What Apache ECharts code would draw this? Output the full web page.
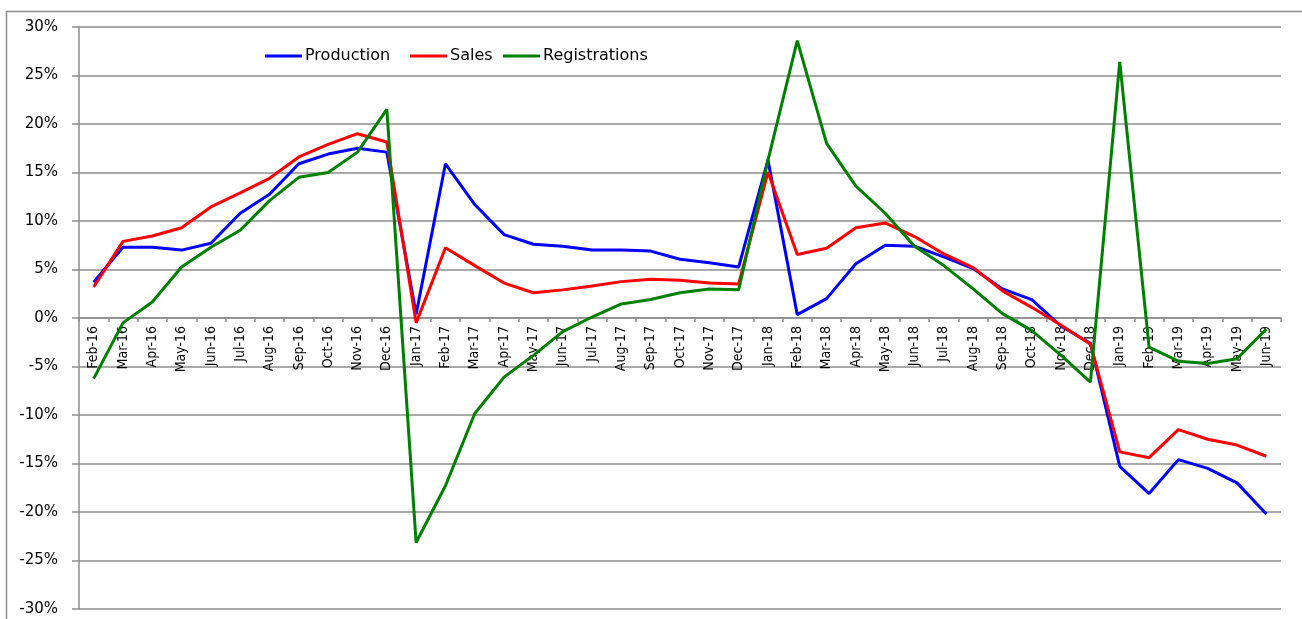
<!DOCTYPE html>
<html>
<head>
<meta charset="utf-8">
<script src="https://cdn.jsdelivr.net/npm/echarts@6/dist/echarts.min.js"></script>
<style>
html,body{margin:0;padding:0;background:#fff;}
#chart{width:1302px;height:619px;}
</style>
</head>
<body>
<div id="chart"></div>
<script>
var categories = ['Feb-16','Mar-16','Apr-16','May-16','Jun-16','Jul-16','Aug-16','Sep-16','Oct-16','Nov-16','Dec-16',
  'Jan-17','Feb-17','Mar-17','Apr-17','May-17','Jun-17','Jul-17','Aug-17','Sep-17','Oct-17','Nov-17','Dec-17',
  'Jan-18','Feb-18','Mar-18','Apr-18','May-18','Jun-18','Jul-18','Aug-18','Sep-18','Oct-18','Nov-18','Dec-18',
  'Jan-19','Feb-19','Mar-19','Apr-19','May-19','Jun-19'];

var production = [3.7,7.3,7.3,7.0,7.7,10.8,12.75,15.9,16.9,17.5,17.1,
  0.4,15.9,11.7,8.6,7.6,7.4,7.0,7.0,6.9,6.05,5.7,5.25,
  16.3,0.35,2.0,5.6,7.5,7.4,6.3,5.1,3.0,1.9,-0.85,-2.6,
  -15.3,-18.1,-14.6,-15.5,-17.0,-20.2];

var sales = [3.2,7.9,8.45,9.3,11.45,12.9,14.4,16.6,17.9,19.0,18.15,
  -0.5,7.25,5.4,3.6,2.6,2.9,3.3,3.75,4.0,3.9,3.6,3.5,
  15.05,6.55,7.2,9.3,9.8,8.4,6.6,5.2,2.8,1.1,-0.75,-2.7,
  -13.8,-14.4,-11.5,-12.5,-13.1,-14.25];

var registrations = [-6.25,-0.5,1.65,5.25,7.3,9.05,12.1,14.5,15.0,17.1,21.5,
  -23.15,-17.3,-9.85,-6.1,-3.85,-1.4,0.1,1.45,1.9,2.6,3.0,2.9,
  16.25,28.6,18.0,13.6,10.8,7.4,5.4,3.0,0.45,-1.3,-3.85,-6.6,
  26.4,-3.0,-4.45,-4.7,-4.2,-1.15];

var yMin = -30, yMax = 30, yStep = 5;
var seriesNames = ['Production','Sales','Registrations'];
var seriesColors = ['#0000ff','#ff0000','#008000'];

var chart = echarts.init(document.getElementById('chart'), null, {renderer:'canvas'});
var gray = '#8c8c8c';
var gridTop = 27, gridBottom = 10, H = 619;
var plotH = H - gridTop - gridBottom;
// position of value 0 measured from the bottom of the plot
var zeroOffset = plotH * (0 - yMin) / (yMax - yMin);

function lg(i, left){
  return {show:true, orient:'horizontal', data:[{name:seriesNames[i], icon:'rect'}],
    left:left, top:48, itemWidth:37, itemHeight:3, itemGap:0, padding:0,
    itemStyle:{color:seriesColors[i]},
    textStyle:{fontFamily:'DejaVu Sans', fontSize:16, color:'#000', padding:[0,0,0,-2]},
    selectedMode:false};
}
var option = {
  animation:false,
  backgroundColor:'#fff',
  graphic:[{type:'rect', shape:{x:6.5, y:11.5, width:1320, height:700},
    style:{fill:null, stroke:gray, lineWidth:1.5}, silent:true, z:-1}],
  legend:[lg(0,265), lg(1,410), lg(2,503)],
  grid:{left:79, right:21, top:gridTop, bottom:gridBottom, containLabel:false, outerBoundsMode:'none'},
  xAxis:{type:'category', data:categories, boundaryGap:true, offset:-zeroOffset,
    axisLine:{onZero:false, lineStyle:{color:gray, width:1.5}},
    axisTick:{show:true, length:4, lineStyle:{color:gray, width:1.5}, interval:0},
    axisLabel:{rotate:90, interval:0, margin:8, fontFamily:'Liberation Sans Narrow, Arial Narrow, DejaVu Sans Condensed, sans-serif', fontSize:14, color:'#000'},
    splitLine:{show:false}},
  yAxis:{type:'value', min:yMin, max:yMax, interval:yStep,
    axisLine:{show:true, onZero:false, lineStyle:{color:gray, width:1.5}},
    axisTick:{show:true, length:7, lineStyle:{color:gray, width:1.5}},
    axisLabel:{formatter:'{value}%', margin:21, fontFamily:'DejaVu Sans', fontSize:15, color:'#000'},
    splitLine:{show:true, lineStyle:{color:gray, width:1.5}}},
  series:[
    {name:seriesNames[0], type:'line', data:production, showSymbol:false, symbol:'none',
      lineStyle:{color:seriesColors[0], width:3}, itemStyle:{color:seriesColors[0]}, z:3},
    {name:seriesNames[1], type:'line', data:sales, showSymbol:false, symbol:'none',
      lineStyle:{color:seriesColors[1], width:3}, itemStyle:{color:seriesColors[1]}, z:4},
    {name:seriesNames[2], type:'line', data:registrations, showSymbol:false, symbol:'none',
      lineStyle:{color:seriesColors[2], width:3}, itemStyle:{color:seriesColors[2]}, z:5}
  ]
};
chart.setOption(option);
</script>
</body>
</html>
